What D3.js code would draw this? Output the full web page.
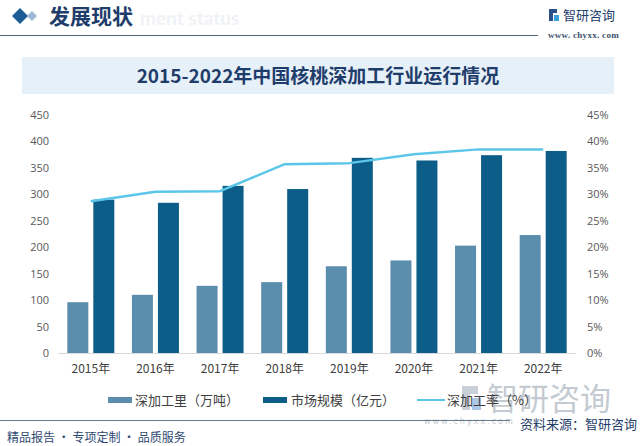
<!DOCTYPE html>
<html><head><meta charset="utf-8">
<script src="https://cdn.jsdelivr.net/npm/d3@7"></script>
<style>body{margin:0;background:#fff}svg{display:block}</style>
</head><body>
<svg id="c" width="640" height="446"></svg>
<script>
const years = ["2015年","2016年","2017年","2018年","2019年","2020年","2021年","2022年"];
const volume = [96, 110, 127, 134, 164, 175, 203, 223];          // 深加工里（万吨）
const market = [290, 284, 316, 310, 369, 364, 374, 382];         // 市场规模（亿元）
const rate = [28.7, 30.5, 30.6, 35.7, 35.9, 37.6, 38.5, 38.5];   // 深加工率（%）
const leftTicks = [0,50,100,150,200,250,300,350,400,450];
const rightTicks = [0,5,10,15,20,25,30,35,40,45];
const legendNames = ["深加工里（万吨）","市场规模（亿元）","深加工率（%）"];

const svg = d3.select("#c");
const FONT = "'Noto Sans CJK SC','Microsoft YaHei',sans-serif";
const cLight = "#5b8dac", cDark = "#0c5d87", cLine = "#5cc6ea", navy = "#1f3d6b";

// header
svg.append("path").attr("d","M12,16 L20,8 L28,16 L20,24 Z").attr("fill","#1e5c98");
svg.append("path").attr("d","M27,16 L32,11 L37,16 L32,21 Z").attr("fill","#9db8d4");
svg.append("text").attr("x",140).attr("y",25).attr("font-family","Lato,sans-serif").attr("font-weight","bold")
  .attr("font-size",19).attr("fill","#f0f2f5").text("ment status");
svg.append("text").attr("x",49).attr("y",24).attr("font-family",FONT).attr("font-weight","bold")
  .attr("font-size",21).attr("fill",navy).text("发展现状");
svg.append("line").attr("x1",0).attr("x2",538).attr("y1",35.5).attr("y2",35.5).attr("stroke","#50657c").attr("stroke-width",1.2);
// logo
const lg = svg.append("g");
lg.append("rect").attr("x",549).attr("y",9).attr("width",4).attr("height",12).attr("fill","#2a4f8a");
lg.append("rect").attr("x",549).attr("y",9).attr("width",8).attr("height",4).attr("fill","#2a4f8a");
lg.append("rect").attr("x",554).attr("y",15).attr("width",5).attr("height",6).attr("fill","#3aa0dc");
lg.append("text").attr("x",563).attr("y",20).attr("font-family",FONT).attr("font-size",13).attr("fill",navy).text("智研咨询");
lg.append("text").attr("x",548).attr("y",38).attr("font-family","'Liberation Serif',serif").attr("font-weight","bold")
  .attr("font-size",9).attr("fill","#3a4f6a").attr("letter-spacing",0.3).text("www. chyxx. com");

// title band
svg.append("rect").attr("x",22).attr("y",57).attr("width",592).attr("height",37).attr("fill","#e6f0f8");
svg.append("text").attr("x",318).attr("y",83).attr("text-anchor","middle").attr("font-family",FONT)
  .attr("font-weight","bold").attr("font-size",19).attr("fill",navy).text("2015-2022年中国核桃深加工行业运行情况");

// scales
const x = d3.scaleBand().domain(years).range([58.5,575.5]).paddingInner(0).paddingOuter(0);
const yL = d3.scaleLinear().domain([0,450]).range([353,115]);
const yR = d3.scaleLinear().domain([0,45]).range([353,115]);
const bw = 21, gap = 5;

// axes
const axL = svg.append("g").attr("transform","translate(49,0)")
  .call(d3.axisLeft(yL).tickValues(leftTicks).tickSize(0).tickPadding(0));
const axR = svg.append("g").attr("transform","translate(587,0)")
  .call(d3.axisRight(yR).tickValues(rightTicks).tickSize(0).tickPadding(0).tickFormat(d=>d+"%"));
[axL,axR].forEach(a=>{a.select(".domain").remove();
  a.selectAll("text").attr("font-family","'Open Sans',sans-serif").attr("font-size",11).attr("fill","#595959");});

svg.append("line").attr("x1",58).attr("x2",576).attr("y1",353.5).attr("y2",353.5).attr("stroke","#d9d9d9");

const axB = svg.append("g").attr("transform","translate(0,362)")
  .call(d3.axisBottom(x).tickSize(0).tickPadding(0));
axB.select(".domain").remove();
axB.selectAll("text").attr("font-family",FONT).attr("font-size",12).attr("fill","#404040").attr("dy","0.9em");

// bars
svg.append("g").selectAll("rect").data(volume).join("rect")
  .attr("x",(d,i)=>x(years[i])+x.bandwidth()/2-gap/2-bw).attr("width",bw)
  .attr("y",d=>yL(d)).attr("height",d=>yL(0)-yL(d)).attr("fill",cLight);
svg.append("g").selectAll("rect").data(market).join("rect")
  .attr("x",(d,i)=>x(years[i])+x.bandwidth()/2+gap/2).attr("width",bw)
  .attr("y",d=>yL(d)).attr("height",d=>yL(0)-yL(d)).attr("fill",cDark);

// line
const line = d3.line().x((d,i)=>x(years[i])+x.bandwidth()/2).y(d=>yR(d));
svg.append("path").datum(rate).attr("d",line).attr("fill","none").attr("stroke",cLine).attr("stroke-width",2.5)
  .attr("stroke-linejoin","round");

// big logo watermark bottom right
const bl = svg.append("g");
bl.append("rect").attr("x",462).attr("y",386).attr("width",8).attr("height",24).attr("fill","#c9d0d8");
bl.append("rect").attr("x",462).attr("y",386).attr("width",16).attr("height",8).attr("fill","#c9d0d8");
bl.append("rect").attr("x",472).attr("y",398).attr("width",9).attr("height",12).attr("fill","#aac8e6");
bl.append("text").attr("x",487).attr("y",410).attr("font-family",FONT).attr("font-size",31).attr("fill","#c4cad1").text("智研咨询");
bl.append("text").attr("x",424).attr("y",424).attr("font-family","'DejaVu Sans',sans-serif").attr("font-size",8)
  .attr("fill","#c4cad1").attr("letter-spacing",2).text("www.chyxx.com");

// legend
const leg = svg.append("g").attr("font-family",FONT).attr("font-size",13).attr("fill","#404040");
leg.append("rect").attr("x",108).attr("y",397).attr("width",24).attr("height",6).attr("fill",cLight);
leg.append("text").attr("x",135).attr("y",405).text(legendNames[0]);
leg.append("rect").attr("x",263).attr("y",397).attr("width",24).attr("height",6).attr("fill",cDark);
leg.append("text").attr("x",291).attr("y",405).text(legendNames[1]);
leg.append("line").attr("x1",417).attr("x2",445).attr("y1",400).attr("y2",400).attr("stroke",cLine).attr("stroke-width",2);
leg.append("text").attr("x",447).attr("y",405).text(legendNames[2]);

// footer
svg.append("line").attr("x1",0).attr("x2",510).attr("y1",420.5).attr("y2",420.5).attr("stroke","#6b7c8e").attr("stroke-width",1.2);
svg.append("text").attr("x",637).attr("y",429).attr("text-anchor","end").attr("font-family",FONT).attr("font-size",13)
  .attr("fill",navy).text("资料来源：智研咨询");
svg.append("text").attr("x",7).attr("y",442).attr("font-family",FONT).attr("font-size",12)
  .attr("fill","#2f4a72").text("精品报告 · 专项定制 · 品质服务");
</script>
</body></html>
